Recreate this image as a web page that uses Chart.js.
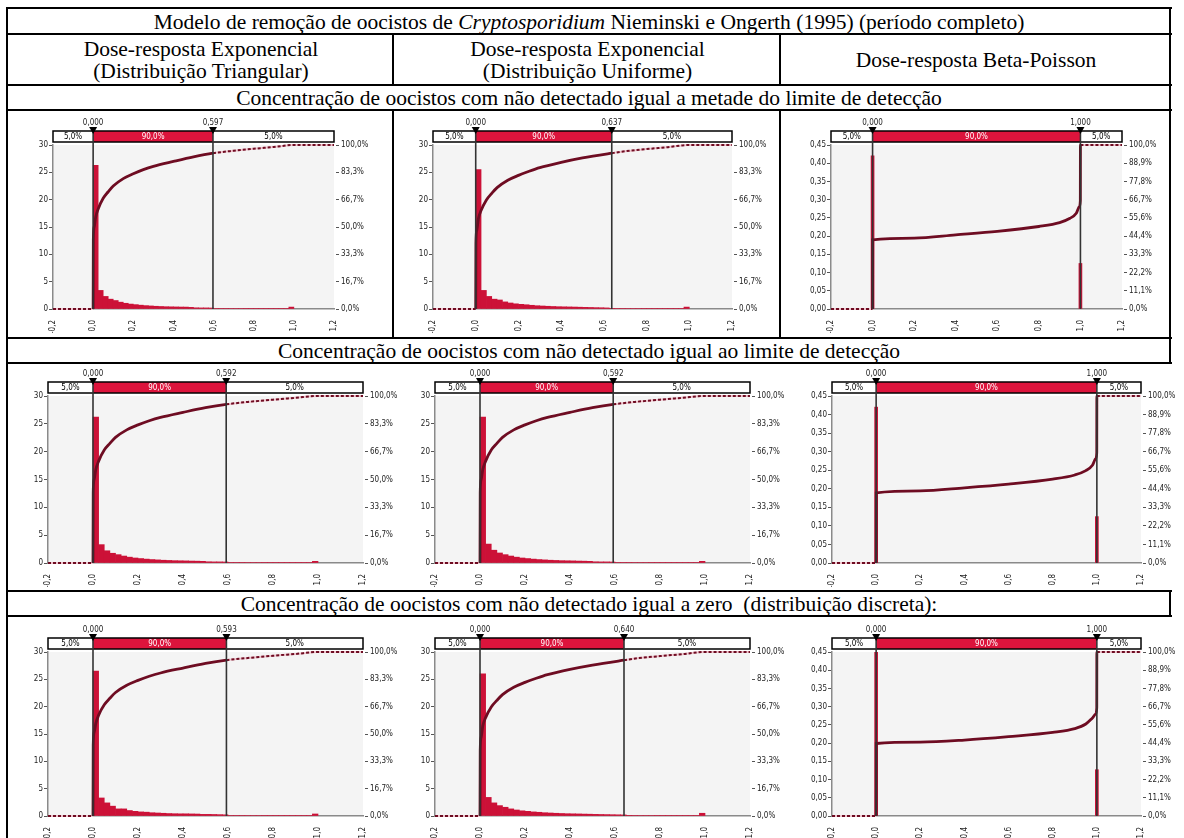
<!DOCTYPE html>
<html lang="pt">
<head>
<meta charset="utf-8">
<title>Modelo de remoção de oocistos de Cryptosporidium</title>
<script src="https://cdn.jsdelivr.net/npm/chart.js@4.4.1/dist/chart.umd.min.js"></script>
<style>
  html, body { margin: 0; padding: 0; background: #fff; }
  #page { position: relative; width: 1184px; height: 838px; overflow: hidden; background: #fff;
          font-family: "Liberation Serif", "Times New Roman", serif; color: #000; }
  .rule { position: absolute; background: #000; }
  .cell { position: absolute; display: flex; flex-direction: column; align-items: center; justify-content: center;
          font-size: 21.5px; line-height: 22px; white-space: pre; }
  .panel { position: absolute; }
</style>
</head>
<body>
<div id="page">
  <div class="cell" style="left:9px;top:9px;width:1160px;height:25px;"><span>Modelo de remoção de oocistos de <i>Cryptosporidium</i> Nieminski e Ongerth (1995) (período completo)</span></div>
  <div class="cell" style="left:9px;top:35px;width:384px;height:50px;"><span>Dose-resposta Exponencial</span><span>(Distribuição Triangular)</span></div>
  <div class="cell" style="left:395px;top:35px;width:385px;height:50px;"><span>Dose-resposta Exponencial</span><span>(Distribuição Uniforme)</span></div>
  <div class="cell" style="left:782px;top:35px;width:388px;height:50px;"><span>Dose-resposta Beta-Poisson</span></div>
  <div class="cell" style="left:9px;top:86px;width:1160px;height:24px;"><span>Concentração de oocistos com não detectado igual a metade do limite de detecção</span></div>
  <div class="cell" style="left:9px;top:339px;width:1160px;height:24px;"><span>Concentração de oocistos com não detectado igual ao limite de detecção</span></div>
  <div class="cell" style="left:9px;top:592px;width:1160px;height:24px;"><span>Concentração de oocistos com não detectado igual a zero  (distribuição discreta):</span></div>
</div>
<script>
// ---- data ----
const xTicks = [-0.2, 0, 0.2, 0.4, 0.6, 0.8, 1.0, 1.2];
const expLeftTicks = [0, 5, 10, 15, 20, 25, 30];
const bpLeftTicks = [0, 0.05, 0.10, 0.15, 0.20, 0.25, 0.30, 0.35, 0.40, 0.45];
const expPctLabels = ['0,0%', '16,7%', '33,3%', '50,0%', '66,7%', '83,3%', '100,0%'];
const bpPctLabels = ['0,0%', '11,1%', '22,2%', '33,3%', '44,4%', '55,6%', '66,7%', '77,8%', '88,9%', '100,0%'];
const bandPct = ['5,0%', '90,0%', '5,0%'];

const delimLo = [0, 0, 0, 0, 0, 0, 0, 0, 0];
const delimHi = [0.597, 0.637, 1.000, 0.592, 0.592, 1.000, 0.593, 0.640, 1.000];

// exponential histograms: 40 bins of width 0.025 from 0 to 1
const expBinWidth = 0.025;
const hist1 = [26.3, 3.4, 2.3, 1.8, 1.55, 1.25, 1.05, 0.9, 0.8, 0.7, 0.62, 0.56, 0.5, 0.46, 0.42, 0.4, 0.38, 0.36, 0.35, 0.3,
               0.22, 0.2, 0.2, 0.18, 0.1, 0.1, 0.1, 0.09, 0.09, 0.09, 0.08, 0.08, 0.08, 0.08, 0.08, 0.08, 0.08, 0.08, 0.08, 0.35];
const hist2 = [25.5, 3.4, 2.3, 1.8, 1.65, 1.3, 1.1, 0.95, 0.85, 0.78, 0.68, 0.6, 0.55, 0.5, 0.46, 0.42, 0.4, 0.38, 0.36, 0.33,
               0.3, 0.28, 0.25, 0.23, 0.2, 0.12, 0.1, 0.1, 0.09, 0.09, 0.09, 0.08, 0.08, 0.08, 0.08, 0.08, 0.08, 0.08, 0.08, 0.35];
const hist4 = [26.2, 3.3, 2.2, 1.75, 1.5, 1.25, 1.05, 0.9, 0.8, 0.7, 0.62, 0.56, 0.5, 0.46, 0.42, 0.4, 0.38, 0.35, 0.33, 0.3,
               0.22, 0.2, 0.2, 0.18, 0.1, 0.1, 0.1, 0.09, 0.09, 0.09, 0.08, 0.08, 0.08, 0.08, 0.08, 0.08, 0.08, 0.08, 0.08, 0.3];
const hist5 = [26.2, 3.4, 2.3, 1.8, 1.5, 1.25, 1.05, 0.9, 0.8, 0.7, 0.62, 0.56, 0.5, 0.46, 0.42, 0.4, 0.38, 0.35, 0.33, 0.3,
               0.22, 0.2, 0.2, 0.18, 0.1, 0.1, 0.1, 0.09, 0.09, 0.09, 0.08, 0.08, 0.08, 0.08, 0.08, 0.08, 0.08, 0.08, 0.08, 0.3];
const hist7 = [26.5, 3.3, 2.4, 1.8, 1.3, 1.3, 1.0, 0.85, 0.75, 0.7, 0.6, 0.55, 0.5, 0.45, 0.42, 0.4, 0.4, 0.38, 0.36, 0.3,
               0.3, 0.28, 0.25, 0.22, 0.1, 0.1, 0.1, 0.09, 0.09, 0.09, 0.08, 0.08, 0.08, 0.08, 0.08, 0.08, 0.08, 0.08, 0.08, 0.37];
const hist8 = [26.0, 3.4, 2.4, 1.9, 1.6, 1.3, 1.1, 0.95, 0.85, 0.75, 0.68, 0.6, 0.55, 0.5, 0.46, 0.42, 0.4, 0.38, 0.35, 0.33,
               0.3, 0.28, 0.26, 0.24, 0.22, 0.2, 0.12, 0.1, 0.09, 0.09, 0.09, 0.08, 0.08, 0.08, 0.08, 0.08, 0.08, 0.08, 0.08, 0.5];

// Beta-Poisson histograms: spikes at 0 and 1
const bpBinX = [0, 1.0];
const hist3 = [0.42, 0.125];
const hist6 = [0.42, 0.125];
const hist9 = [0.45, 0.127];

// ascending cumulative curves (fraction, right axis)
const cumX1 = [-0.2, 0, 0.001, 0.005, 0.0125, 0.025, 0.05, 0.075, 0.1, 0.15, 0.2, 0.25, 0.3, 0.4, 0.5, 0.597, 0.7, 0.8, 0.9, 1.0, 1.2];
const cum1  = [0, 0, 0.42, 0.50, 0.56, 0.61, 0.675, 0.715, 0.75, 0.795, 0.825, 0.85, 0.87, 0.90, 0.928, 0.95, 0.965, 0.977, 0.988, 1.0, 1.0];
const cumX2 = [-0.2, 0, 0.001, 0.005, 0.0125, 0.025, 0.05, 0.075, 0.1, 0.15, 0.2, 0.25, 0.3, 0.4, 0.5, 0.637, 0.7, 0.8, 0.9, 1.0, 1.2];
const cum2  = [0, 0, 0.40, 0.48, 0.55, 0.60, 0.665, 0.705, 0.74, 0.785, 0.815, 0.84, 0.862, 0.894, 0.921, 0.95, 0.962, 0.975, 0.987, 1.0, 1.0];
const cumX4 = [-0.2, 0, 0.001, 0.005, 0.0125, 0.025, 0.05, 0.075, 0.1, 0.15, 0.2, 0.25, 0.3, 0.4, 0.5, 0.592, 0.7, 0.8, 0.9, 1.0, 1.2];
const cum4  = [0, 0, 0.42, 0.50, 0.56, 0.61, 0.676, 0.716, 0.752, 0.797, 0.827, 0.852, 0.872, 0.902, 0.93, 0.95, 0.966, 0.978, 0.989, 1.0, 1.0];
const cumX5 = [-0.2, 0, 0.001, 0.005, 0.0125, 0.025, 0.05, 0.075, 0.1, 0.15, 0.2, 0.25, 0.3, 0.4, 0.5, 0.592, 0.7, 0.8, 0.9, 1.0, 1.2];
const cum5  = [0, 0, 0.42, 0.50, 0.56, 0.61, 0.676, 0.716, 0.752, 0.797, 0.827, 0.852, 0.872, 0.902, 0.93, 0.95, 0.966, 0.978, 0.989, 1.0, 1.0];
const cumX7 = [-0.2, 0, 0.001, 0.005, 0.0125, 0.025, 0.05, 0.075, 0.1, 0.15, 0.2, 0.25, 0.3, 0.4, 0.5, 0.593, 0.7, 0.8, 0.9, 1.0, 1.2];
const cum7  = [0, 0, 0.43, 0.51, 0.565, 0.615, 0.678, 0.718, 0.753, 0.797, 0.827, 0.852, 0.872, 0.902, 0.93, 0.95, 0.965, 0.977, 0.988, 1.0, 1.0];
const cumX8 = [-0.2, 0, 0.001, 0.005, 0.0125, 0.025, 0.05, 0.075, 0.1, 0.15, 0.2, 0.25, 0.3, 0.4, 0.5, 0.640, 0.7, 0.8, 0.9, 1.0, 1.2];
const cum8  = [0, 0, 0.40, 0.48, 0.55, 0.60, 0.665, 0.705, 0.74, 0.785, 0.815, 0.84, 0.862, 0.894, 0.92, 0.95, 0.962, 0.975, 0.987, 1.0, 1.0];
const bpCumX = [-0.2, 0, 0.0005, 0.2, 0.4, 0.6, 0.8, 0.9, 0.95, 0.98, 0.995, 0.9995, 1.0, 1.2];
const cum3 = [0, 0, 0.422, 0.432, 0.452, 0.473, 0.503, 0.527, 0.553, 0.584, 0.624, 0.66, 1.0, 1.0];
const cum6 = [0, 0, 0.420, 0.432, 0.450, 0.472, 0.502, 0.527, 0.553, 0.585, 0.625, 0.66, 1.0, 1.0];
const cum9 = [0, 0, 0.442, 0.451, 0.463, 0.484, 0.510, 0.533, 0.561, 0.598, 0.622, 0.66, 1.0, 1.0];

// ---- layout ----
const page = document.getElementById('page');
const PAD = { l: 40, r: 42, t: 30, b: 24 };
const panelBoxes = [
  { l: 53,  t: 145, r: 334,  b: 309 },
  { l: 433, t: 145, r: 732,  b: 309 },
  { l: 831, t: 145, r: 1122, b: 309 },
  { l: 48,  t: 396, r: 363,  b: 563 },
  { l: 435, t: 396, r: 750,  b: 563 },
  { l: 832, t: 396, r: 1141, b: 563 },
  { l: 48,  t: 652, r: 363,  b: 816 },
  { l: 435, t: 652, r: 750,  b: 816 },
  { l: 832, t: 652, r: 1141, b: 816 }
];
// table rules: [x1, y1, x2, y2]
const tableRules = [
  [7, 8, 1171, 8], [7, 34, 1171, 34], [7, 85, 1171, 85], [7, 110, 1171, 110],
  [7, 338, 1171, 338], [7, 363, 1171, 363], [7, 591, 1171, 591], [7, 616, 1171, 616],
  [7, 8, 7, 838], [1170, 8, 1170, 363], [1170, 591, 1170, 616],
  [393, 34, 393, 85], [393, 110, 393, 338], [780, 34, 780, 85], [780, 110, 780, 338]
];
tableRules.forEach(([x1, y1, x2, y2]) => {
  const d = document.createElement('div');
  d.className = 'rule';
  d.style.left = (x1 - 1) + 'px';
  d.style.top = (y1 - 1) + 'px';
  d.style.width = (x2 - x1 + 2) + 'px';
  d.style.height = (y2 - y1 + 2) + 'px';
  page.appendChild(d);
});

const CRIMSON = '#dc143c';
const BAR_RED = '#cc1137';
const MAROON = '#6e0c22';
const CHART_FONT = '"DejaVu Sans Condensed", "DejaVu Sans", sans-serif';

Chart.defaults.font.family = CHART_FONT;
Chart.defaults.font.size = 8;
Chart.defaults.color = '#222';

const fmt = (v, dec) => v.toFixed(dec).replace('.', ',');

const expBins = hist1.map((_, k) => k * expBinWidth + expBinWidth / 2);

const panelData = [
  { kind: 'exp', hist: hist1, cumX: cumX1, cumY: cum1 },
  { kind: 'exp', hist: hist2, cumX: cumX2, cumY: cum2 },
  { kind: 'bp',  hist: hist3, cumX: bpCumX, cumY: cum3 },
  { kind: 'exp', hist: hist4, cumX: cumX4, cumY: cum4 },
  { kind: 'exp', hist: hist5, cumX: cumX5, cumY: cum5 },
  { kind: 'bp',  hist: hist6, cumX: bpCumX, cumY: cum6 },
  { kind: 'exp', hist: hist7, cumX: cumX7, cumY: cum7 },
  { kind: 'exp', hist: hist8, cumX: cumX8, cumY: cum8 },
  { kind: 'bp',  hist: hist9, cumX: bpCumX, cumY: cum9 }
];

// light grey plot background
const plotBg = {
  id: 'plotBg',
  beforeDraw(chart) {
    const { ctx, chartArea: a } = chart;
    ctx.save();
    ctx.fillStyle = '#f4f4f4';
    ctx.fillRect(a.left, a.top, a.right - a.left, a.bottom - a.top);
    ctx.restore();
  }
};

// @RISK style delimiter band, markers and lines
const delims = {
  id: 'delims',
  afterDatasetsDraw(chart, args, opts) {
    const { ctx, chartArea: a, scales: { x } } = chart;
    const xl = x.getPixelForValue(opts.lo);
    const xh = x.getPixelForValue(opts.hi);
    const bh = 11;
    const bt = a.top - bh - 3;
    ctx.save();
    ctx.fillStyle = '#fff';
    ctx.fillRect(a.left, bt, a.right - a.left, bh);
    ctx.fillStyle = CRIMSON;
    ctx.fillRect(xl, bt, xh - xl, bh);
    ctx.strokeStyle = '#000';
    ctx.lineWidth = 1.5;
    ctx.strokeRect(a.left, bt, a.right - a.left, bh);

    ctx.font = '8px ' + CHART_FONT;
    ctx.textAlign = 'center';
    ctx.textBaseline = 'middle';
    ctx.fillStyle = '#000';
    ctx.fillText(bandPct[0], (a.left + xl) / 2, bt + bh / 2 + 0.5);
    ctx.fillStyle = '#fff';
    ctx.fillText(bandPct[1], (xl + xh) / 2, bt + bh / 2 + 0.5);
    ctx.fillStyle = '#000';
    ctx.fillText(bandPct[2], (xh + a.right) / 2, bt + bh / 2 + 0.5);

    ctx.strokeStyle = '#333';
    ctx.lineWidth = 1.6;
    [xl, xh].forEach(px => {
      ctx.beginPath();
      ctx.moveTo(px, bt);
      ctx.lineTo(px, a.bottom);
      ctx.stroke();
    });

    [[xl, opts.lo], [xh, opts.hi]].forEach(([px, v]) => {
      ctx.fillStyle = '#000';
      ctx.beginPath();
      ctx.moveTo(px - 4, bt - 4);
      ctx.lineTo(px + 4, bt - 4);
      ctx.lineTo(px, bt + 3);
      ctx.closePath();
      ctx.fill();
      ctx.fillStyle = '#222';
      ctx.textBaseline = 'alphabetic';
      ctx.fillText(fmt(v, 3), px, bt - 6);
    });
    ctx.restore();
  }
};

function isOutside(c, lo, hi) {
  return c.p1.parsed.x <= lo + 1e-9 || c.p0.parsed.x >= hi - 1e-9;
}

function makePanel(i) {
  const box = panelBoxes[i];
  const p = panelData[i];
  const lo = delimLo[i], hi = delimHi[i];
  const isExp = p.kind === 'exp';
  const W = box.r - box.l + PAD.l + PAD.r;
  const H = box.b - box.t + PAD.t + PAD.b;

  const wrap = document.createElement('div');
  wrap.className = 'panel';
  wrap.style.left = (box.l - PAD.l) + 'px';
  wrap.style.top = (box.t - PAD.t) + 'px';
  const cv = document.createElement('canvas');
  cv.width = W; cv.height = H;
  cv.style.width = W + 'px'; cv.style.height = H + 'px';
  wrap.appendChild(cv);
  page.appendChild(wrap);

  const binX = isExp ? expBins : bpBinX;
  const leftTicks = isExp ? expLeftTicks : bpLeftTicks;
  const pctLabels = isExp ? expPctLabels : bpPctLabels;
  const cumData = p.cumX.map((x, k) => ({ x: x, y: p.cumY[k] }));

  new Chart(cv.getContext('2d'), {
    type: 'bar',
    data: {
      datasets: [
        {
          type: 'line', yAxisID: 'y2', order: 0, data: cumData,
          borderColor: MAROON, borderWidth: 2.8, pointRadius: 0, fill: false,
          cubicInterpolationMode: 'monotone', clip: 4,
          segment: {
            borderDash: c => isOutside(c, lo, hi) ? [3, 2] : undefined,
            borderWidth: c => isOutside(c, lo, hi) ? 2 : undefined
          }
        },
        {
          type: 'line', yAxisID: 'y2', order: 1, data: cumData,
          borderWidth: 2, pointRadius: 0, fill: false,
          cubicInterpolationMode: 'monotone', clip: 4,
          segment: {
            borderColor: c => isOutside(c, lo, hi) ? '#f0c4cd' : 'rgba(0,0,0,0)'
          }
        },
        {
          type: 'bar', yAxisID: 'y', order: 2,
          data: binX.map((x, k) => ({ x: x, y: p.hist[k] })),
          backgroundColor: BAR_RED,
          borderWidth: 0,
          barPercentage: 1, categoryPercentage: 1,
          barThickness: isExp ? undefined : 3
        }
      ]
    },
    options: {
      responsive: false,
      animation: false,
      devicePixelRatio: 1,
      layout: { padding: { top: PAD.t, left: 0, right: 0, bottom: 0 } },
      plugins: {
        legend: { display: false },
        tooltip: { enabled: false },
        delims: { lo: lo, hi: hi }
      },
      scales: {
        x: {
          type: 'linear', min: -0.2, max: 1.2, offset: false,
          afterBuildTicks: s => { s.ticks = xTicks.map(v => ({ value: v })); },
          afterFit: s => { s.height = PAD.b; },
          ticks: { autoSkip: false, minRotation: 90, maxRotation: 90, padding: 3,
                   callback: v => fmt(v, 1) },
          grid: { display: false, offset: false },
          border: { display: true, color: '#8a8a8a', width: 1.5 }
        },
        y: {
          position: 'left', min: 0, max: leftTicks[leftTicks.length - 1],
          afterBuildTicks: s => { s.ticks = leftTicks.map(v => ({ value: v })); },
          afterFit: s => { s.width = PAD.l; },
          ticks: { padding: 1, callback: v => isExp ? String(v) : fmt(v, 2) },
          grid: { display: true, drawOnChartArea: false, tickLength: 4, color: '#555' },
          border: { display: true, color: '#8a8a8a', width: 1.5 }
        },
        y2: {
          position: 'right', min: 0, max: 1,
          afterBuildTicks: s => { s.ticks = pctLabels.map((_, k) => ({ value: k / (pctLabels.length - 1) })); },
          afterFit: s => { s.width = PAD.r; },
          ticks: { padding: 2, callback: (v, k) => pctLabels[k] },
          grid: { display: true, drawOnChartArea: false, tickLength: 5, color: '#555',
                  tickBorderDash: [0, 2, 3, 10] },
          border: { display: false }
        }
      }
    },
    plugins: [plotBg, delims]
  });
}

panelData.forEach((_, i) => makePanel(i));
</script>
</body>
</html>
